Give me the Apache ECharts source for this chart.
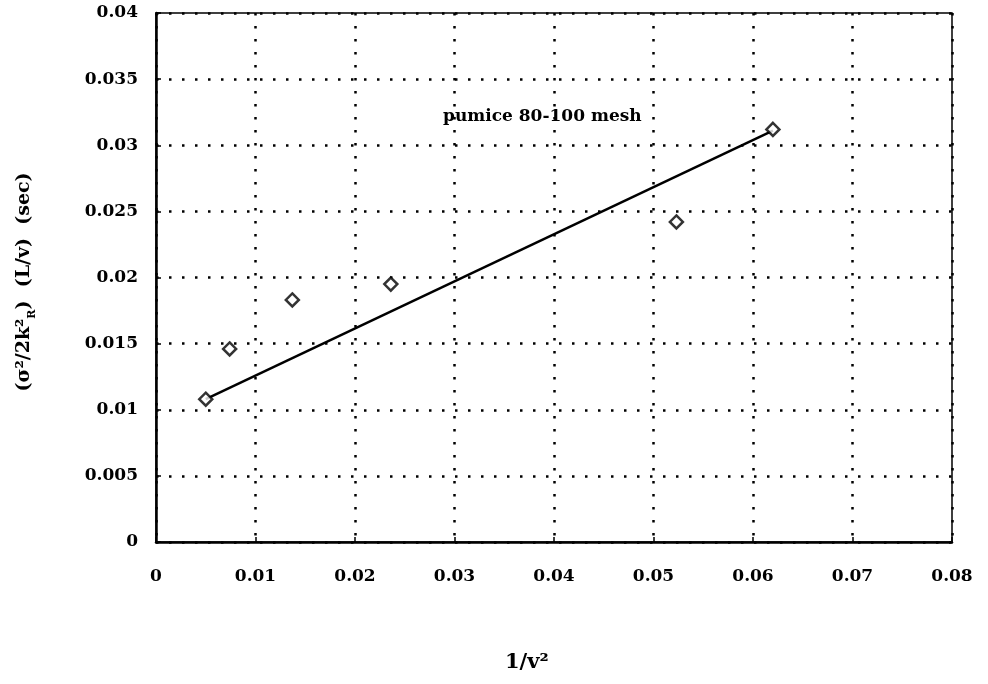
<!DOCTYPE html>
<html>
<head>
<meta charset="utf-8">
<script src="https://cdn.jsdelivr.net/npm/echarts@6/dist/echarts.min.js"></script>
<style>
  html, body { margin: 0; padding: 0; background: #fff; }
  #chart { width: 988px; height: 684px; }
</style>
</head>
<body>
<div id="chart"></div>
<script>
// Measured points: 1/v^2 against (sigma^2 / 2 k_R^2)(L/v) in seconds
const invVelocitySq = [0.0050, 0.0074, 0.0137, 0.0236, 0.0523, 0.0620];
const reducedVariance = [0.0108, 0.0146, 0.0183, 0.0195, 0.0242, 0.0312];

// Straight-line fit drawn across the measured range
const fitX = [0.0050, 0.0620];
const fitY = [0.0108, 0.0311];

const xTicks = [0, 0.01, 0.02, 0.03, 0.04, 0.05, 0.06, 0.07, 0.08];
const yTicks = [0, 0.005, 0.01, 0.015, 0.02, 0.025, 0.03, 0.035, 0.04];

const seriesLabel = 'pumice 80-100 mesh';
const xTitle = '1/v²';
// y title as rich text: (σ²/2k²_R) (L/v) (sec)
const yTitle = '{m|(σ²/2k²}{sub|R}{m|)  (L/v)  (sec)}';

const FONT = '"DejaVu Serif", "Liberation Serif", serif';

const chart = echarts.init(document.getElementById('chart'), null, { renderer: 'canvas' });

const dotted = { color: '#000', width: 2.5, type: [2.5, 10.5] };
const tickLabel = { color: '#000', fontFamily: FONT, fontWeight: 'bold', fontSize: 17 };

chart.setOption({
  backgroundColor: '#fff',
  animation: false,
  grid: {
    left: 156, right: 36, top: 13, bottom: 142,
    show: true, borderColor: '#000', borderWidth: 1.5
  },
  xAxis: {
    type: 'value',
    min: xTicks[0], max: xTicks[xTicks.length - 1], interval: 0.01,
    axisLine: { show: true, onZero: false, lineStyle: { color: '#000', width: 2.5 } },
    axisTick: { show: true, inside: true, length: 5, lineStyle: { color: '#000', width: 1.5 } },
    splitLine: { show: true, lineStyle: dotted },
    axisLabel: Object.assign({ margin: 26, formatter: v => String(+v.toFixed(3)) }, tickLabel)
  },
  yAxis: {
    type: 'value',
    min: yTicks[0], max: yTicks[yTicks.length - 1], interval: 0.005,
    axisLine: { show: true, onZero: false, lineStyle: { color: '#000', width: 2.5 } },
    axisTick: { show: true, inside: true, length: 5, lineStyle: { color: '#000', width: 1.5 } },
    splitLine: { show: true, lineStyle: dotted },
    axisLabel: Object.assign({ margin: 18, formatter: v => String(+v.toFixed(3)) }, tickLabel)
  },
  graphic: [
    {
      type: 'text', left: 443, top: 108, silent: true,
      style: { text: seriesLabel, fill: '#000', font: 'bold 17px ' + FONT }
    },
    {
      type: 'text', left: 505, top: 652, silent: true,
      style: { text: xTitle, fill: '#000', font: 'bold 21px ' + FONT }
    },
    {
      type: 'text', silent: true,
      x: 24, y: 282, rotation: Math.PI / 2,
      style: {
        text: yTitle, fill: '#000',
        align: 'center', verticalAlign: 'middle',
        rich: {
          m: { fontFamily: FONT, fontWeight: 'bold', fontSize: 19, lineHeight: 28, verticalAlign: 'middle', fill: '#000' },
          sub: { fontFamily: FONT, fontWeight: 'bold', fontSize: 11, lineHeight: 28, verticalAlign: 'bottom', fill: '#000' }
        }
      }
    }
  ],
  series: [
    {
      type: 'line',
      data: fitX.map((x, i) => [x, fitY[i]]),
      showSymbol: false,
      lineStyle: { color: '#000', width: 2.5 },
      z: 3
    },
    {
      type: 'scatter',
      data: invVelocitySq.map((x, i) => [x, reducedVariance[i]]),
      symbol: 'diamond',
      symbolSize: 13,
      itemStyle: { color: '#fff', borderColor: '#000', borderWidth: 2.5 },
      z: 4
    }
  ]
});
</script>
</body>
</html>
